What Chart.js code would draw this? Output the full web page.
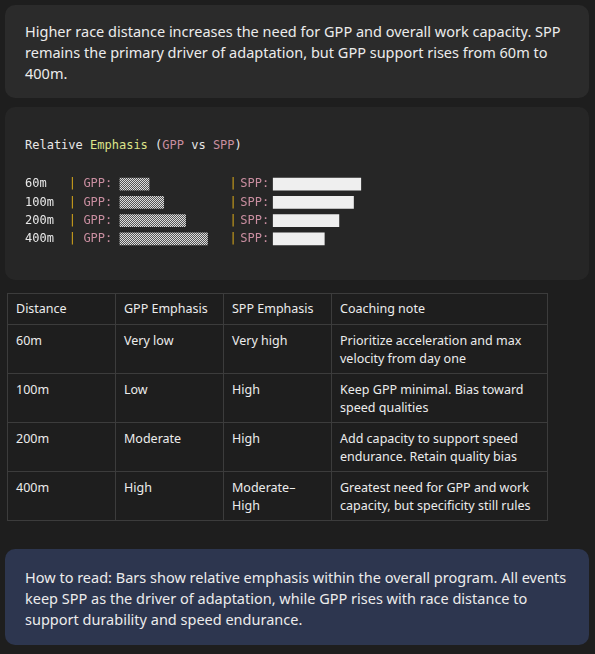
<!DOCTYPE html>
<html><head><meta charset="utf-8">
<script src="https://cdn.jsdelivr.net/npm/chart.js@4"></script>
<style>
body{margin:0;background:#1e1e1e;width:595px;height:654px;position:relative;font-family:"Noto Sans",Arial,sans-serif;color:#ececec;overflow:hidden}
.card{position:absolute;left:5px;width:584px;border-radius:10px;box-sizing:border-box}
#top{top:5px;height:93px;background:#2b2b2b;padding:16px 20px;font-size:14.5px;line-height:21px}
#code{top:107px;height:173px;background:#262626}
#code .t{position:absolute;left:20px;top:31px;font-family:"DejaVu Sans Mono",monospace;font-size:12px;color:#e8e8e8;white-space:pre}
#wrap{position:absolute;left:20px;top:68px;width:400px;height:73px}
table{position:absolute;left:7px;top:293px;border-collapse:collapse;font-size:12.5px}
td,th{border:1px solid #3c3c3c;padding:0 8px;text-align:left;font-weight:normal;line-height:18px}
th{height:30px;vertical-align:middle}
td{height:49px;vertical-align:top;padding-top:7px;box-sizing:border-box}
#note{top:549px;height:96px;background:#2d364f;padding:18px 20px;font-size:14.5px;line-height:21px}
</style></head><body>
<div class="card" id="top">Higher race distance increases the need for GPP and overall work capacity. SPP remains the primary driver of adaptation, but GPP support rises from 60m to 400m.</div>
<div class="card" id="code">
<div class="t">Relative <span style="color:#dde48a">Emphasis</span> (<span style="color:#c98ea0">GPP</span> vs <span style="color:#c98ea0">SPP</span>)</div>
<div id="wrap"><canvas id="c"></canvas></div>
</div>
<table>
<tr><th style="width:91px">Distance</th><th style="width:91px">GPP Emphasis</th><th style="width:91px">SPP Emphasis</th><th style="width:199px">Coaching note</th></tr>
<tr><td>60m</td><td>Very low</td><td>Very high</td><td>Prioritize acceleration and max velocity from day one</td></tr>
<tr><td>100m</td><td>Low</td><td>High</td><td>Keep GPP minimal. Bias toward speed qualities</td></tr>
<tr><td>200m</td><td>Moderate</td><td>High</td><td>Add capacity to support speed endurance. Retain quality bias</td></tr>
<tr><td>400m</td><td>High</td><td>Moderate–High</td><td>Greatest need for GPP and work capacity, but specificity still rules</td></tr>
</table>
<div class="card" id="note">How to read: Bars show relative emphasis within the overall program. All events keep SPP as the driver of adaptation, while GPP rises with race distance to support durability and speed endurance.</div>
<script>
// bar lengths in block characters
const distances = ['60m', '100m', '200m', '400m'];
const gppBlocks = [4, 6, 9, 12];
const sppBlocks = [12, 11, 9, 7];
const gppCol = 13, sppCol = 34, charW = 7.3;

const pc = document.createElement('canvas');
pc.width = 2; pc.height = 2;
const px = pc.getContext('2d');
px.fillStyle = '#555'; px.fillRect(0, 0, 2, 2);
px.fillStyle = '#ddd'; px.fillRect(0, 0, 1, 1); px.fillRect(1, 1, 1, 1);
const checker = px.createPattern(pc, 'repeat');

const textPlugin = {
    id: 'rowText',
    afterDatasetsDraw: (chart) => {
        const ctx = chart.ctx, x = chart.scales.x, y = chart.scales.y;
        ctx.save();
        ctx.font = '12px "DejaVu Sans Mono", monospace';
        ctx.textBaseline = 'middle';
        distances.forEach((d, i) => {
            const yy = y.getPixelForValue(i);
            const put = (s, col, c) => { ctx.fillStyle = c; ctx.fillText(s, x.getPixelForValue(col), yy); };
            put(d, 0, '#e8e8e8');
            put('|', 6, '#d4a51c'); put('GPP:', 8, '#c98ea0');
            put('|', 28, '#d4a51c'); put('SPP:', 29.5, '#c98ea0');
        });
        ctx.restore();
    }
};

new Chart(document.getElementById('c'), {
    type: 'bar',
    data: {
        labels: distances,
        datasets: [
            {data: gppBlocks.map(v => [gppCol, gppCol + v]), backgroundColor: checker, barThickness: 12, grouped: false},
            {data: sppBlocks.map(v => [sppCol, sppCol + v]), backgroundColor: '#efefef', barThickness: 12, grouped: false}
        ]
    },
    options: {
        indexAxis: 'y',
        responsive: true,
        maintainAspectRatio: false,
        animation: false,
        layout: {padding: 0},
        scales: {
            x: {display: false, min: 0, max: 400 / charW},
            y: {display: false}
        },
        plugins: {legend: {display: false}, tooltip: {enabled: false}}
    },
    plugins: [textPlugin]
});
</script>
</body></html>
